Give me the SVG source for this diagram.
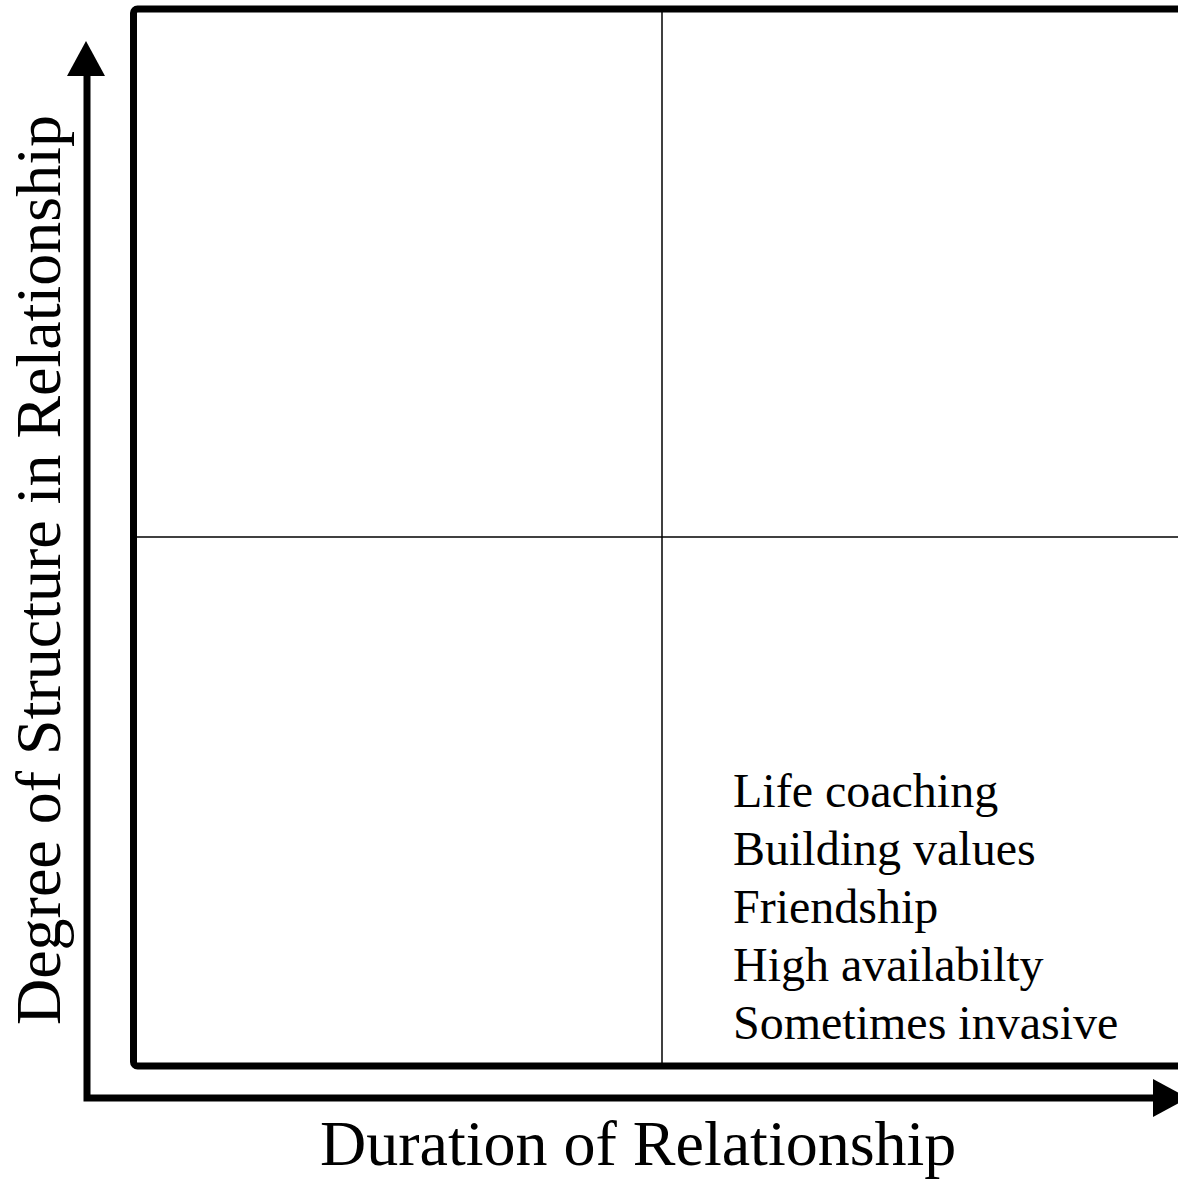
<svg xmlns="http://www.w3.org/2000/svg" width="1178" height="1179" viewBox="0 0 1178 1179">
<style>
.t{font-family:"Liberation Serif","Times New Roman",serif;fill:#000}
.thick{fill:none;stroke:#000;stroke-width:7}
.thin{fill:none;stroke:#000;stroke-width:1.5}
</style>
<rect width="1178" height="1179" fill="#fff"/>
<g id="quadrant-frame">
<rect class="thick" x="133.5" y="9" width="1100" height="1057" rx="4" stroke-linejoin="round"/>
<line class="thin" x1="662" y1="9" x2="662" y2="1066"/>
<line class="thin" x1="133" y1="537" x2="1178" y2="537"/>
</g>
<g id="connectors">
<polyline class="thick" points="87,74 87,1098 1155,1098" stroke-linejoin="miter"/>
<polygon points="67,76 105,76 86,41" fill="#000"/>
<polygon points="1153,1079 1153,1117 1188,1098" fill="#000"/>
</g>
<g id="y-label">
<text class="t" font-size="64" transform="translate(60,1025) rotate(-90)">Degree of Structure in Relationship</text>
</g>
<g id="x-label">
<text class="t" font-size="64" x="320" y="1165">Duration of Relationship</text>
</g>
<g id="quadrant-lower-right">
<text class="t" font-size="48" x="733" y="807">Life coaching</text>
<text class="t" font-size="48" x="733" y="865">Building values</text>
<text class="t" font-size="48" x="733" y="923">Friendship</text>
<text class="t" font-size="48" x="733" y="981">High availabilty</text>
<text class="t" font-size="48" x="733" y="1039">Sometimes invasive</text>
</g>
</svg>
